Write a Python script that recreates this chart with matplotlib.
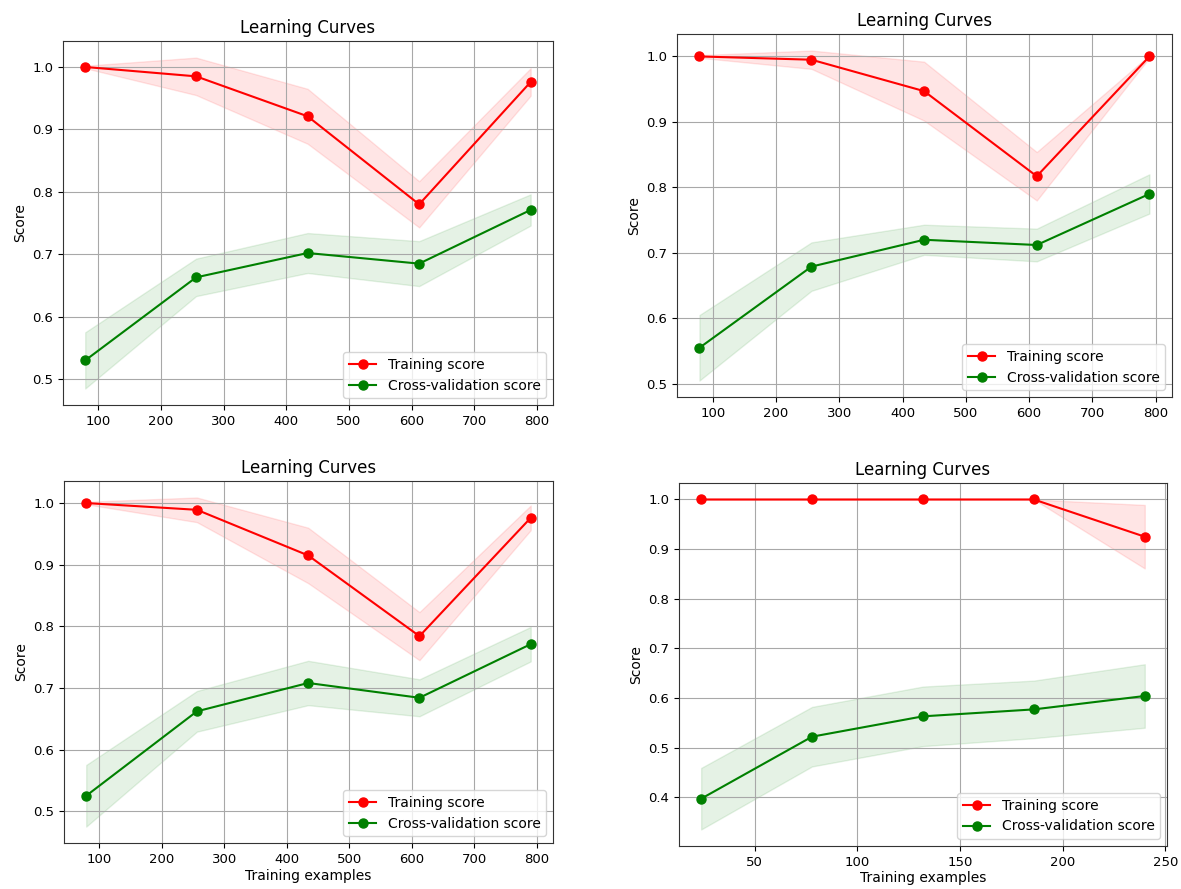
import numpy as np
import matplotlib
matplotlib.use("Agg")
import matplotlib.pyplot as plt

# ---- data ----
sizes_a = [79, 256, 434, 612, 790]
sizes_b = [24, 78, 132, 186, 240]

# panel 1 (top-left)
p1_train = [1.0, 0.985, 0.921, 0.780, 0.976]
p1_train_std = [0.002, 0.030, 0.044, 0.037, 0.022]
p1_cv = [0.530, 0.663, 0.702, 0.685, 0.771]
p1_cv_std = [0.045, 0.030, 0.032, 0.036, 0.025]

# panel 2 (top-right)
p2_train = [1.0, 0.995, 0.947, 0.817, 1.0]
p2_train_std = [0.002, 0.014, 0.045, 0.037, 0.002]
p2_cv = [0.555, 0.679, 0.720, 0.712, 0.790]
p2_cv_std = [0.050, 0.037, 0.023, 0.025, 0.030]

# panel 3 (bottom-left)
p3_train = [1.0, 0.989, 0.915, 0.784, 0.976]
p3_train_std = [0.002, 0.020, 0.045, 0.039, 0.020]
p3_cv = [0.525, 0.662, 0.708, 0.684, 0.771]
p3_cv_std = [0.050, 0.033, 0.036, 0.030, 0.028]

# panel 4 (bottom-right)
p4_train = [1.0, 1.0, 1.0, 1.0, 0.925]
p4_train_std = [0.0, 0.0, 0.0, 0.0, 0.064]
p4_cv = [0.397, 0.522, 0.563, 0.577, 0.604]
p4_cv_std = [0.062, 0.060, 0.060, 0.058, 0.064]

title = "Learning Curves"
xlabel = "Training examples"
ylabel = "Score"
train_label = "Training score"
cv_label = "Cross-validation score"

panels = [
    (sizes_a, p1_train, p1_train_std, p1_cv, p1_cv_std, [0.0533, 0.5444, 0.4149, 0.4094], False),
    (sizes_a, p2_train, p2_train_std, p2_cv, p2_cv_std, [0.5732, 0.5534, 0.4191, 0.4083], False),
    (sizes_a, p3_train, p3_train_std, p3_cv, p3_cv_std, [0.0542, 0.0517, 0.4140, 0.4072], True),
    (sizes_b, p4_train, p4_train_std, p4_cv, p4_cv_std, [0.5749, 0.0484, 0.4132, 0.4083], True),
]

fig = plt.figure(figsize=(11.81, 8.89), dpi=100)

for sizes, tr, trs, cv, cvs, pos, show_x in panels:
    ax = fig.add_axes(pos)
    x = np.array(sizes)
    tr = np.array(tr); trs = np.array(trs)
    cv = np.array(cv); cvs = np.array(cvs)
    ax.grid(True, color="#a8a8a8", linewidth=0.8)
    ax.fill_between(x, tr - trs, tr + trs, alpha=0.1, color="r")
    ax.fill_between(x, cv - cvs, cv + cvs, alpha=0.1, color="g")
    ax.plot(x, tr, "o-", color="r", label=train_label, markersize=6.5, linewidth=1.5)
    ax.plot(x, cv, "o-", color="g", label=cv_label, markersize=6.5, linewidth=1.5)
    ax.set_title(title, fontsize=12)
    ax.set_ylabel(ylabel, fontsize=10)
    if show_x:
        ax.set_xlabel(xlabel, fontsize=10, labelpad=2)
    ax.tick_params(labelsize=9.5)
    for sp in ax.spines.values():
        sp.set_color("#333333")
    ax.legend(loc="best", fontsize=10)

fig.savefig("out.png", dpi=100)
